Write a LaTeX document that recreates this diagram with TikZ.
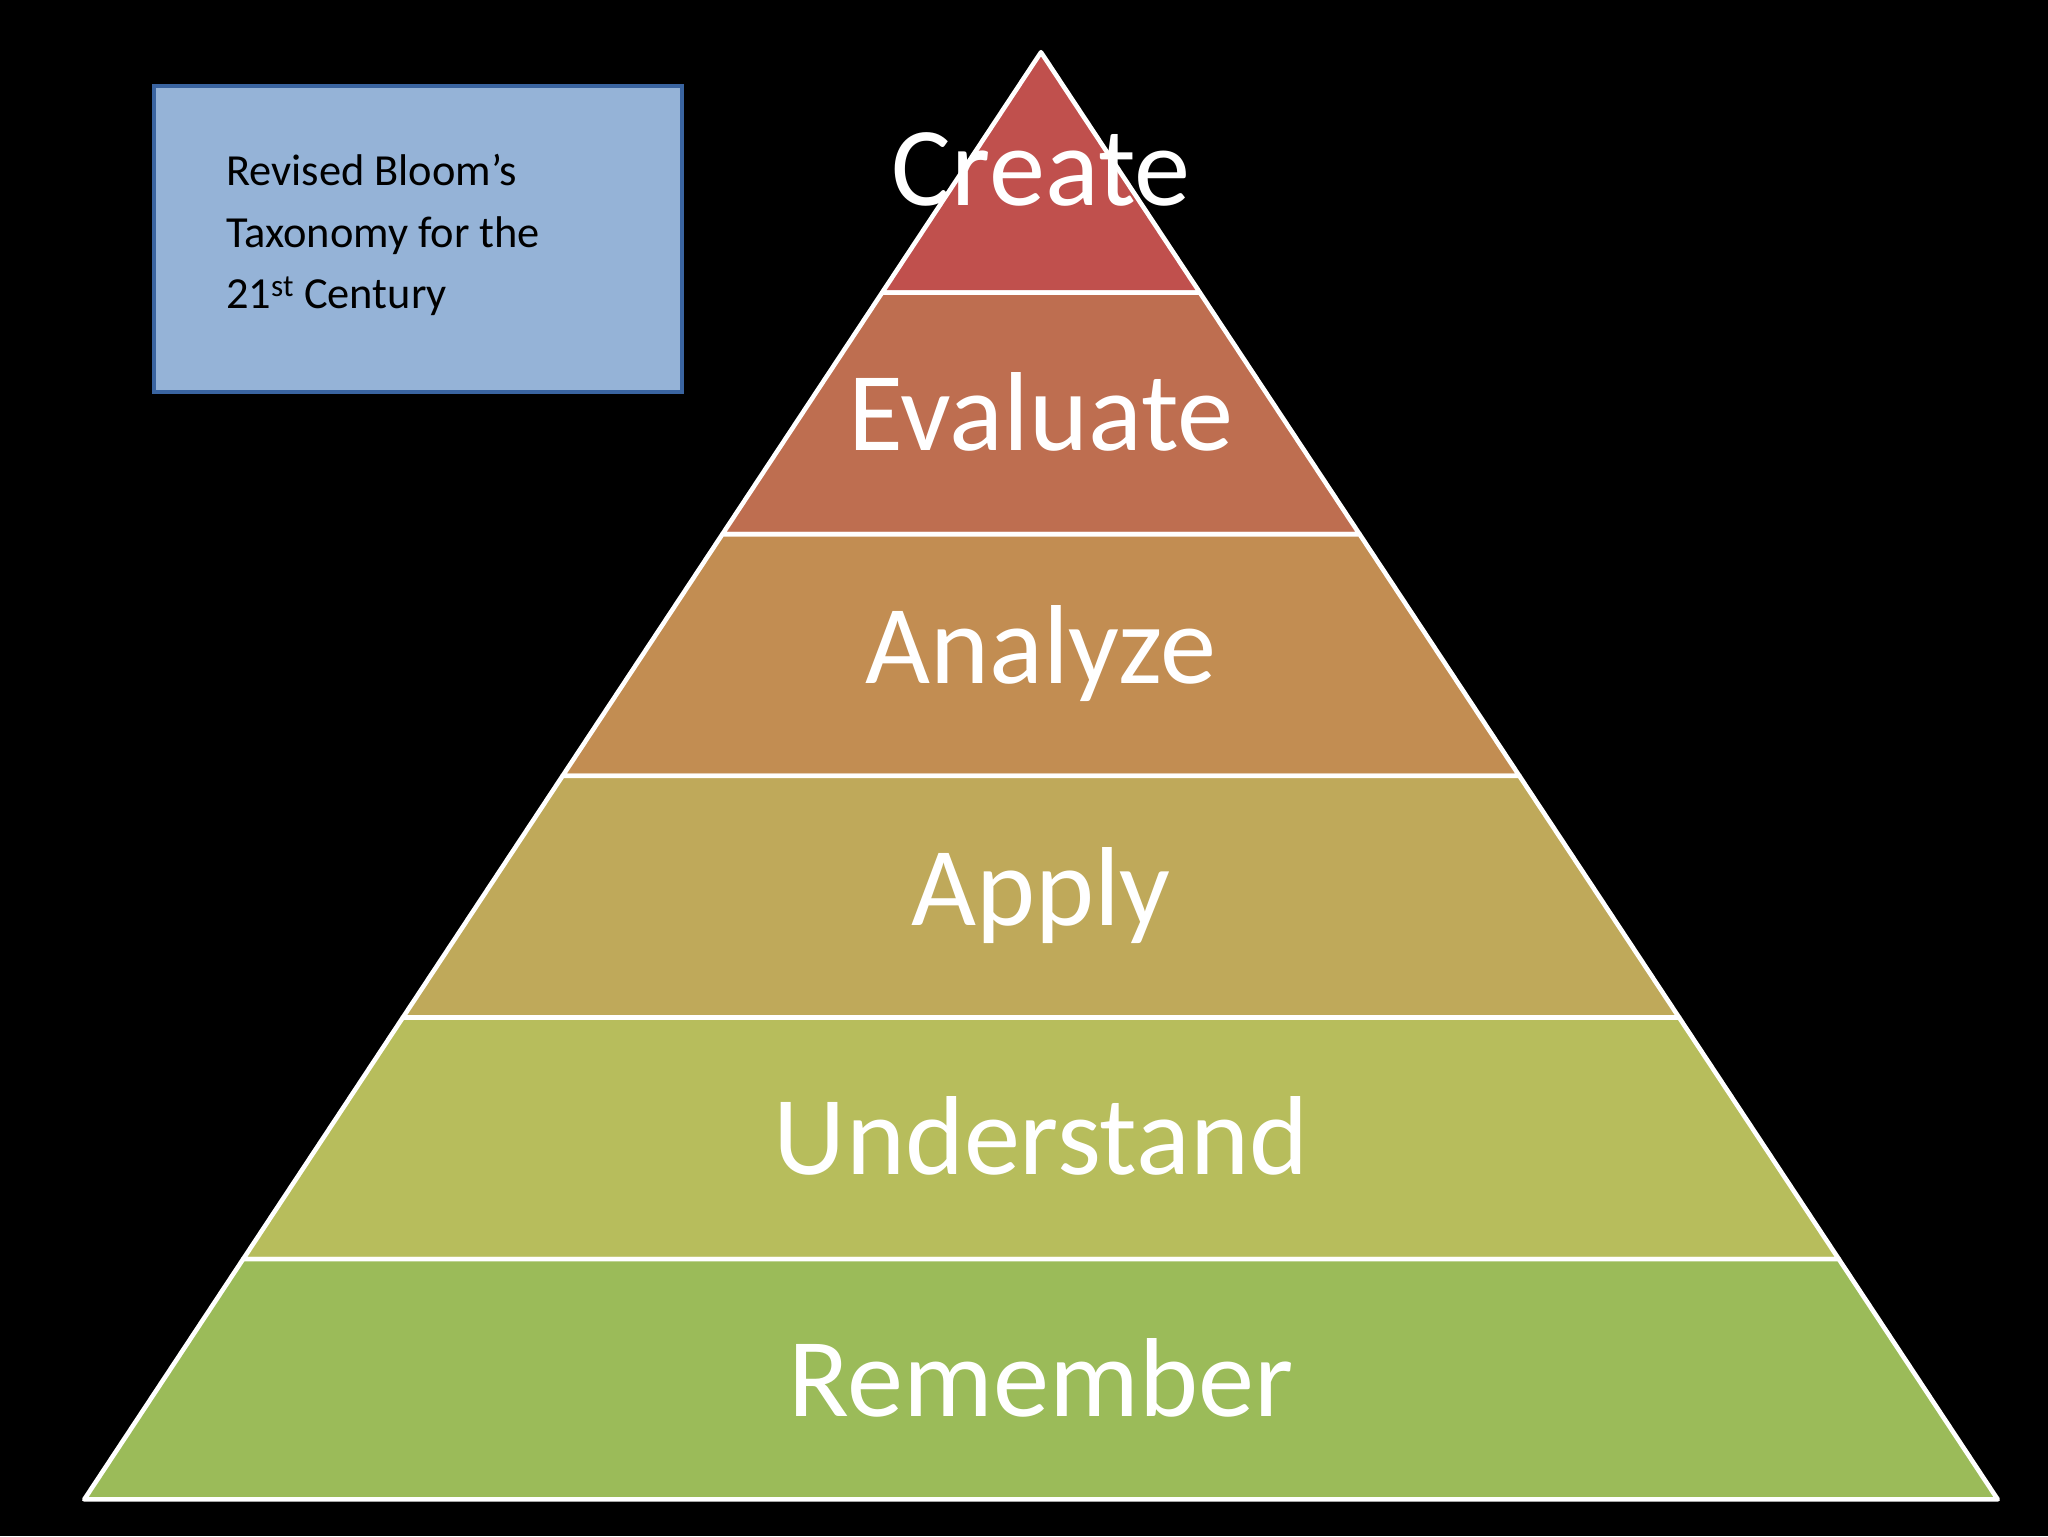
\documentclass[tikz,border=0pt]{standalone}
\usepackage{fontspec}
\setmainfont{Carlito}
\definecolor{cCreate}{HTML}{C0504D}
\definecolor{cEval}{HTML}{BE6E50}
\definecolor{cAnal}{HTML}{C28D52}
\definecolor{cApply}{HTML}{BFA95A}
\definecolor{cUnd}{HTML}{B7BD5C}
\definecolor{cRem}{HTML}{9BBB59}
\definecolor{boxfill}{HTML}{95B3D7}
\definecolor{boxline}{HTML}{3A64A0}
\tikzset{band/.style={draw=white,line width=3.5pt,line join=round},
 lbl/.style={text=white,font=\fontsize{86}{90}\selectfont}}
\begin{document}
\begin{tikzpicture}[x=1pt,y=-1pt]
\fill[black] (0,0) rectangle (1568,1176);
\useasboundingbox (0,0) rectangle (1568,1176);
\def\cx{797}
\foreach \t/\b/\c/\name [count=\i] in {40/224/cCreate/Create,224/409/cEval/Evaluate,409/594/cAnal/Analyze,594/779/cApply/Apply,779/964/cUnd/Understand,964/1148/cRem/Remember}{
  \pgfmathsetmacro\wt{(\t-40)/1108*732.5}
  \pgfmathsetmacro\wb{(\b-40)/1108*732.5}
  \filldraw[band,fill=\c] (\cx-\wt,\t) -- (\cx+\wt,\t) -- (\cx+\wb,\b) -- (\cx-\wb,\b) -- cycle;
}
\node[lbl] (create) at (797,130) {Create};
\node[lbl] (eval) at (797,315) {Evaluate};
\node[lbl] (anal) at (797,500) {Analyze};
\node[lbl] (apply) at (797,686) {Apply};
\node[lbl] (und) at (797,870) {Understand};
\node[lbl] (rem) at (797,1055) {Remember};
\draw[fill=boxfill,draw=boxline,line width=3pt] (118,66) rectangle (522,300);
\node[anchor=north west,align=left,font=\fontsize{34}{47}\selectfont,inner sep=0] (title) at (173,118)
 {Revised Bloom’s\\Taxonomy for the\\21\textsuperscript{st} Century};
\end{tikzpicture}
\end{document}
